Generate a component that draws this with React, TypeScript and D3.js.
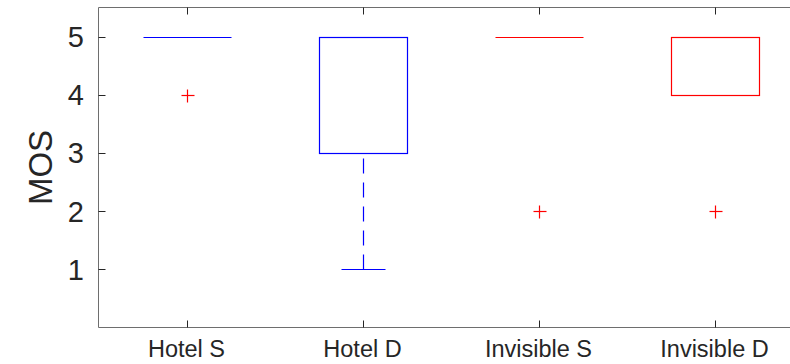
import React from 'react';
import * as d3 from 'd3';

// Box statistics (MOS 1..5)
const categories = ['Hotel S', 'Hotel D', 'Invisible S', 'Invisible D'];
const boxColors = ['#0000ff', '#0000ff', '#ff0000', '#ff0000'];
const q1 = [5, 3, 5, 4];
const medians = [5, 5, 5, 5];
const q3 = [5, 5, 5, 5];
const whiskerLow = [5, 1, 5, 4];
const whiskerHigh = [5, 5, 5, 5];
const outliers = [[4], [], [2], [2]];
const yTicks = [1, 2, 3, 4, 5];

const width = 790;
const height = 364;
const font = '"Liberation Sans", Arial, Helvetica, sans-serif';
const outlierColor = '#ff0000';

const App: React.FC = () => {
  // the plot box runs past the right edge of the picture
  const x = d3.scaleLinear().domain([0.5, 4.5]).range([98.5, 802.5]);
  const y = d3.scaleLinear().domain([0, 5.5]).range([327.5, 7.5]);
  const boxHalf = 0.25;
  const capHalf = 0.125;
  const axisColor = '#6e6e6e';
  const tickColor = '#262626';
  const left = x(0.5);
  const right = x(4.5);
  const top = y(5.5);
  const bottom = y(0);
  const snap = (v: number) => Math.round(v) + 0.5;

  return (
    <svg
      width={width}
      height={height}
      style={{ position: 'absolute', left: 0, top: 0, background: '#fff' }}
      fontFamily={font}
    >
      {/* axes frame */}
      <line x1={left} x2={left} y1={top} y2={bottom} stroke={axisColor} />
      <line x1={left} x2={right} y1={bottom} y2={bottom} stroke={axisColor} />
      <line x1={left} x2={right} y1={top} y2={top} stroke={axisColor} />

      {/* y ticks and labels */}
      {yTicks.map(t => (
        <g key={t}>
          <line x1={left} x2={left + 7} y1={snap(y(t))} y2={snap(y(t))} stroke={tickColor} />
          <text x={84} y={y(t)} dy="0.36em" textAnchor="end" fontSize={29} fill="#262626">{t}</text>
        </g>
      ))}

      {/* x ticks and labels */}
      {categories.map((c, i) => {
        const cx = snap(x(i + 1));
        return (
          <g key={c}>
            <line x1={cx} x2={cx} y1={bottom} y2={bottom - 7} stroke={tickColor} />
            <line x1={cx} x2={cx} y1={top} y2={top + 7} stroke={tickColor} />
            <text x={x(i + 1)} y={357} textAnchor="middle" fontSize={23.5} fill="#262626">{c}</text>
          </g>
        );
      })}

      {/* y axis title */}
      <text
        transform={`translate(52,${(top + bottom) / 2}) rotate(-90)`}
        textAnchor="middle"
        fontSize={33}
        fill="#262626"
      >
        MOS
      </text>

      {/* boxes */}
      {categories.map((c, i) => {
        const st = { stroke: boxColors[i], strokeWidth: 1.2, fill: 'none' };
        const x0 = snap(x(i + 1 - boxHalf));
        const x1 = snap(x(i + 1 + boxHalf));
        const cx = snap(x(i + 1));
        const c0 = snap(x(i + 1 - capHalf));
        const c1 = snap(x(i + 1 + capHalf));
        const yq1 = snap(y(q1[i]));
        const yq3 = snap(y(q3[i]));
        const ymed = snap(y(medians[i]));
        const ylo = snap(y(whiskerLow[i]));
        const yhi = snap(y(whiskerHigh[i]));
        return (
          <g key={c}>
            {/* whiskers, drawn outward from the box */}
            {whiskerLow[i] < q1[i] && (
              <line x1={cx} x2={cx} y1={ylo} y2={yq1} style={st} strokeDasharray="15,9" />
            )}
            {whiskerHigh[i] > q3[i] && (
              <line x1={cx} x2={cx} y1={yhi} y2={yq3} style={st} strokeDasharray="15,9" />
            )}
            <line x1={c0} x2={c1} y1={ylo} y2={ylo} style={st} />
            <line x1={c0} x2={c1} y1={yhi} y2={yhi} style={st} />
            {q1[i] !== q3[i] && (
              <rect x={x0} y={yq3} width={x1 - x0} height={yq1 - yq3} style={st} />
            )}
            <line x1={x0} x2={x1} y1={ymed} y2={ymed} style={st} />
            {outliers[i].map((o, k) => {
              const oy = snap(y(o));
              return (
                <g key={k} style={{ stroke: outlierColor, strokeWidth: 1.2 }}>
                  <line x1={cx - 6} x2={cx + 7} y1={oy} y2={oy} />
                  <line x1={cx} x2={cx} y1={oy - 6} y2={oy + 7} />
                </g>
              );
            })}
          </g>
        );
      })}
    </svg>
  );
};

export default App;
